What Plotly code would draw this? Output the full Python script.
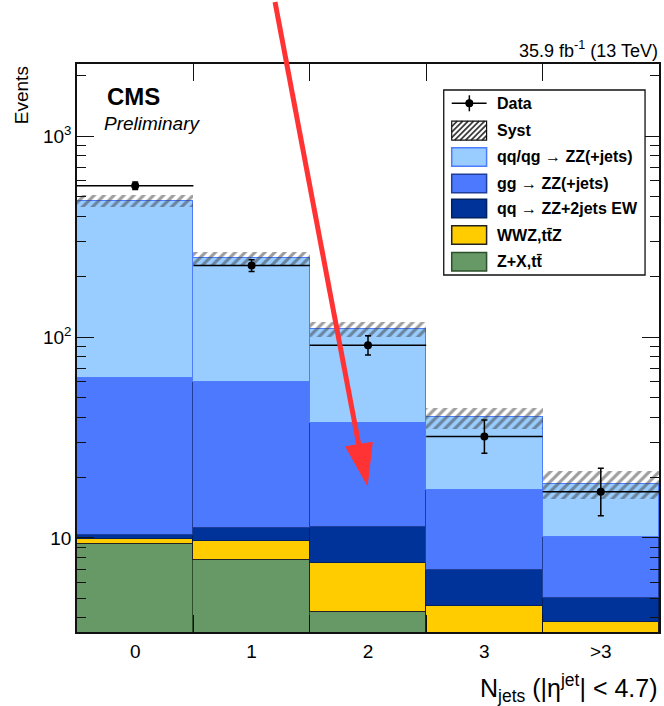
import plotly.graph_objects as go

# ---- N_jets distribution, 4-lepton ZZ selection -------------------------
bin_labels = ["0", "1", "2", "3", ">3"]
bin_centers = [0, 1, 2, 3, 4]

data_counts = [567, 227, 91, 32, 17]
data_err_up = [24.3, 15.6, 10.5, 6.7, 5.2]
data_err_down = [23.3, 14.6, 9.5, 5.6, 4.1]

# stacked backgrounds / signal, bottom to top
zx_ttbar = [9.3, 7.8, 4.3, 2.2, 1.5]
wwz_ttz = [0.6, 1.9, 3.2, 2.4, 2.3]
qq_ew = [0.45, 1.45, 3.8, 2.3, 1.25]
gg_zz = [51.9, 48.6, 26.0, 10.5, 5.0]
qq_zz = [416.0, 187.0, 72.3, 22.4, 8.55]

# systematic uncertainty on the total prediction (absolute, symmetric)
syst_unc = [33.0, 19.0, 9.8, 4.8, 3.0]

FONT = "Liberation Sans, Arial, Helvetica, sans-serif"

# figure geometry (pixels)
W, H = 664, 706
ML, MR, MT, MB = 77, 3, 64, 74
PW, PH = W - ML - MR, H - MT - MB


def px(X):
    return (X - ML) / PW


def py(Y):
    return (H - MB - Y) / PH


components = [
    ("Z+X,tt̄", zx_ttbar, "#669966", "#2c4f2c"),
    ("WWZ,tt̄Z", wwz_ttz, "#ffcc00", "#222222"),
    ("qq → ZZ+2jets EW", qq_ew, "#003399", "#00205f"),
    ("gg → ZZ(+jets)", gg_zz, "#4d79ff", "#1f3d99"),
    ("qq/qg → ZZ(+jets)", qq_zz, "#99ccff", "#4d7cff"),
]

fig = go.Figure()

for name, vals, fill, edge in components:
    fig.add_trace(go.Bar(
        x=bin_centers, y=vals, width=1, name=name,
        marker=dict(color=fill, line=dict(color=edge, width=1.5)),
        showlegend=False,
    ))

total = [sum(c[1][i] for c in components) for i in range(len(bin_centers))]

# hatched systematic band around the total stack
fig.add_trace(go.Bar(
    x=bin_centers,
    y=[2 * s for s in syst_unc],
    base=[t - s for t, s in zip(total, syst_unc)],
    width=1, name="Syst",
    marker=dict(color="rgba(0,0,0,0)", line=dict(width=0),
                pattern=dict(shape="/", fgcolor="#3c3c3c",
                             bgcolor="rgba(0,0,0,0)", size=7, solidity=0.45)),
    showlegend=False,
))

fig.add_trace(go.Scatter(
    x=bin_centers, y=data_counts, mode="markers", name="Data",
    marker=dict(color="black", size=8),
    error_y=dict(type="data", symmetric=False, array=data_err_up,
                 arrayminus=data_err_down, color="black", thickness=1.5, width=3),
    error_x=dict(type="data", array=[0.5] * 5, color="black", thickness=1.5, width=0),
    showlegend=False,
))

minor_y = [k * 10 ** d for d in range(0, 4) for k in range(2, 10)]
minor_y = [v for v in minor_y if 3.4 <= v <= 2290]

axis_common = dict(showline=True, linecolor="#111", linewidth=1.5, mirror="allticks",
                   showgrid=False, zeroline=False,
                   tickfont=dict(family=FONT, size=19, color="black"))

fig.update_layout(
    width=W, height=H,
    margin=dict(l=ML, r=MR, t=MT, b=MB),
    paper_bgcolor="white", plot_bgcolor="white",
    barmode="stack", bargap=0,
    showlegend=False,
    xaxis=dict(range=[-0.5, 4.5], tickvals=bin_centers, ticktext=bin_labels,
               ticks="inside", ticklen=0, ticklabelstandoff=1,
               minor=dict(tickvals=[0.5, 1.5, 2.5, 3.5], ticks="inside",
                          ticklen=17, tickcolor="#111", tickwidth=1.3),
               **axis_common),
    yaxis=dict(type="log", range=[0.5315, 3.3598],
               tickvals=[10, 100, 1000],
               ticktext=["10", "10<sup>2</sup>", "10<sup>3</sup>"],
               ticks="inside", ticklen=17, tickcolor="#111", tickwidth=1.3,
               minor=dict(tickvals=minor_y, ticks="inside", ticklen=9,
                          tickcolor="#111", tickwidth=1.3),
               **axis_common),
)

ann = []
ann.append(dict(text="<b>CMS</b>", x=px(105), y=py(96.5), xref="paper", yref="paper",
                xanchor="left", yanchor="middle", showarrow=False,
                font=dict(family=FONT, size=24, color="black")))
ann.append(dict(text="<i>Preliminary</i>", x=px(102), y=py(124), xref="paper", yref="paper",
                xanchor="left", yanchor="middle", showarrow=False,
                font=dict(family=FONT, size=19, color="black")))
ann.append(dict(text="35.9 fb<sup>-1</sup> (13 TeV)", x=px(662), y=py(50),
                xref="paper", yref="paper", xanchor="right", yanchor="middle",
                showarrow=False, font=dict(family=FONT, size=18, color="black")))
ann.append(dict(text="Events", x=px(21), y=py(64), xref="paper", yref="paper",
                xanchor="center", yanchor="top", textangle=-90, showarrow=False,
                font=dict(family=FONT, size=19, color="black")))
ann.append(dict(text="N<sub>jets</sub> (|η<sup>jet</sup>| &lt; 4.7)", x=px(662), y=py(688),
                xref="paper", yref="paper", xanchor="right", yanchor="middle",
                showarrow=False, font=dict(family=FONT, size=25, color="black")))

shapes = []

# legend frame
shapes.append(dict(type="rect", xref="paper", yref="paper",
                   x0=px(445), x1=px(647), y0=py(275), y1=py(90),
                   line=dict(color="#111", width=1.3), fillcolor="white", layer="above"))

sx0, sx1 = 453, 488
text_x = 496
rows = {"Data": 103.3, "Syst": 130.7}
row_y = [157, 183.5, 208.5, 235, 261.7]

# Data entry: marker with error bars
yc = rows["Data"]
shapes.append(dict(type="line", xref="paper", yref="paper", x0=px(sx0), x1=px(sx1),
                   y0=py(yc), y1=py(yc), line=dict(color="black", width=1.5), layer="above"))
shapes.append(dict(type="line", xref="paper", yref="paper", x0=px(470.7), x1=px(470.7),
                   y0=py(yc + 8), y1=py(yc - 8), line=dict(color="black", width=1.5), layer="above"))
shapes.append(dict(type="circle", xref="paper", yref="paper", x0=px(467), x1=px(474.4),
                   y0=py(yc + 3.7), y1=py(yc - 3.7), fillcolor="black",
                   line=dict(color="black", width=1), layer="above"))
ann.append(dict(text="<b>Data</b>", x=px(text_x), y=py(yc), xref="paper", yref="paper",
                xanchor="left", yanchor="middle", showarrow=False,
                font=dict(family=FONT, size=16, color="black")))

# Syst entry: hatched box
yc = rows["Syst"]
by0, by1 = yc - 9.5, yc + 9.5
bw, bh = sx1 - sx0, by1 - by0
c = -bh
while c < bw:
    t0 = max(0.0, -c)
    t1 = min(bh, bw - c)
    if t1 > t0:
        shapes.append(dict(type="line", xref="paper", yref="paper",
                           x0=px(sx0 + c + t0), y0=py(by1 - t0),
                           x1=px(sx0 + c + t1), y1=py(by1 - t1),
                           line=dict(color="#3c3c3c", width=1.8), layer="above"))
    c += 5.5
shapes.append(dict(type="rect", xref="paper", yref="paper", x0=px(sx0), x1=px(sx1),
                   y0=py(by1), y1=py(by0), line=dict(color="#111", width=1.2), layer="above"))
ann.append(dict(text="<b>Syst</b>", x=px(text_x), y=py(yc), xref="paper", yref="paper",
                xanchor="left", yanchor="middle", showarrow=False,
                font=dict(family=FONT, size=16, color="black")))

legend_text = {
    "qq/qg → ZZ(+jets)": "<b>qq/qg</b> → <b>ZZ(+jets)</b>",
    "gg → ZZ(+jets)": "<b>gg</b> → <b>ZZ(+jets)</b>",
    "qq → ZZ+2jets EW": "<b>qq</b> → <b>ZZ+2jets EW</b>",
    "WWZ,tt̄Z": "<b>WWZ,tt̄Z</b>",
    "Z+X,tt̄": "<b>Z+X,tt̄</b>",
}
for (name, _, fill, edge), yc in zip(reversed(components), row_y):
    shapes.append(dict(type="rect", xref="paper", yref="paper", x0=px(sx0), x1=px(sx1),
                       y0=py(yc + 9.2), y1=py(yc - 9.2), fillcolor=fill,
                       line=dict(color=edge, width=1.5), layer="above"))
    ann.append(dict(text=legend_text[name], x=px(text_x), y=py(yc), xref="paper", yref="paper",
                    xanchor="left", yanchor="middle", showarrow=False,
                    font=dict(family=FONT, size=16, color="black")))

# red pointer arrow
shapes.append(dict(type="line", xref="paper", yref="paper",
                   x0=px(275.7), y0=py(2), x1=px(360), y1=py(446),
                   line=dict(color="#ff3333", width=5), layer="above"))
shapes.append(dict(type="path", xref="paper", yref="paper",
                   path=f"M {px(346.7)},{py(446.7)} L {px(368.3)},{py(485)} "
                        f"L {px(373.3)},{py(442.3)} Z",
                   fillcolor="#ff3333", line=dict(color="#ff3333", width=1), layer="above"))

fig.update_layout(annotations=ann, shapes=shapes)

fig.write_html("out.html")
